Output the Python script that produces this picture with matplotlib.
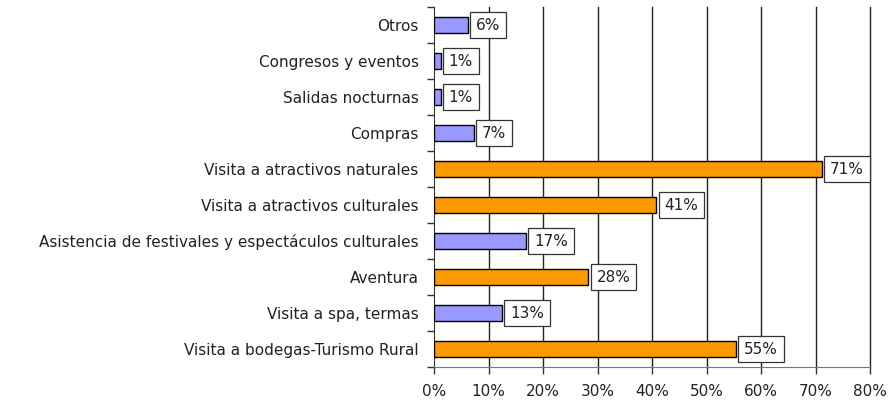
import matplotlib
matplotlib.use("Agg")
import matplotlib.pyplot as plt
import numpy as np

categories = ["Otros", "Congresos y eventos", "Salidas nocturnas", "Compras",
              "Visita a atractivos naturales", "Visita a atractivos culturales",
              "Asistencia de festivales y espectáculos culturales", "Aventura",
              "Visita a spa, termas", "Visita a bodegas-Turismo Rural"]
values = [6.2, 1.2, 1.2, 7.3, 71.2, 40.8, 16.9, 28.3, 12.5, 55.4]
labels = ["6%", "1%", "1%", "7%", "71%", "41%", "17%", "28%", "13%", "55%"]
highlight = [False, False, False, False, True, True, False, True, False, True]
xticks = [0, 10, 20, 30, 40, 50, 60, 70, 80]

plt.rcParams['font.family'] = ['DejaVu Sans']
fig = plt.figure(figsize=(8.94, 4.04), dpi=100)
ax = fig.add_axes([434/894, 1-367/404, (870-434)/894, (367-7)/404])

n = len(categories)
y = np.arange(n)[::-1]
colors = ["#FF9900" if h else "#9999FF" for h in highlight]
ax.barh(y, values, height=0.45, color=colors, edgecolor="black", linewidth=1, zorder=3)

for yi, v, lab in zip(y, values, labels):
    ax.text(v + 1.5, yi, lab, va="center", ha="left", fontsize=11, color="#222222",
            bbox=dict(boxstyle="square,pad=0.38", facecolor="white", edgecolor="#333333", linewidth=0.9),
            zorder=4)

ax.set_xlim(0, 80)
ax.set_ylim(-0.5, n - 0.5)
ax.set_xticks(xticks)
ax.set_xticklabels([f"{t}%" for t in xticks], fontsize=11, color="#222222")
ax.set_yticks(y)
ax.set_yticklabels(categories, fontsize=11, color="#222222")
ax.tick_params(axis="y", which="major", length=0, pad=11)
ax.set_yticks(np.arange(-0.5, n, 1.0), minor=True)
ax.tick_params(axis="y", which="minor", length=5, width=1, color="#333333")
ax.tick_params(axis="x", length=5, width=1, color="#333333", pad=7)
for t in xticks[1:]:
    ax.axvline(t, color="#222222", linewidth=1, zorder=0, clip_on=False)
for s in ["top", "right"]:
    ax.spines[s].set_visible(False)
ax.spines["left"].set_color("#333333")
ax.spines["bottom"].set_color("#777777")

fig.savefig("out.png", dpi=100)
